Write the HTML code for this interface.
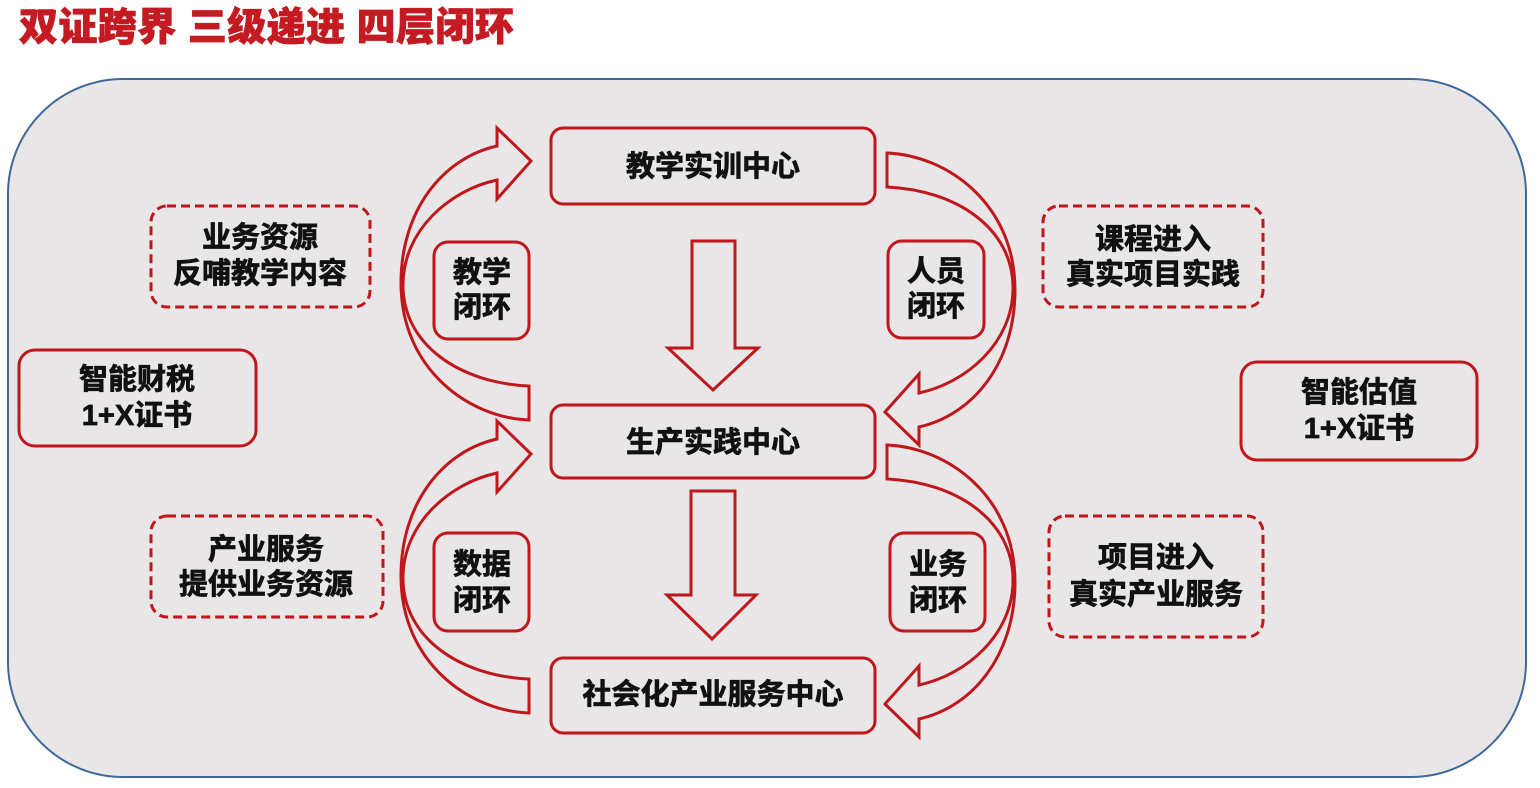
<!DOCTYPE html>
<html>
<head>
<meta charset="utf-8">
<style>
  html,body{margin:0;padding:0;background:#ffffff;}
  body{width:1540px;height:788px;overflow:hidden;}
  svg{display:block;}
  .t{font-family:"Liberation Sans","Noto Sans CJK SC",sans-serif;font-weight:bold;fill:#111;font-size:29px;stroke:#111;stroke-width:0.7px;}
</style>
</head>
<body>
<svg width="1540" height="788" viewBox="0 0 1540 788" xmlns="http://www.w3.org/2000/svg">
  <!-- title -->
  <text x="19" y="28" dominant-baseline="central" style="font-family:'Liberation Sans','Noto Sans CJK SC',sans-serif;font-weight:900;font-size:39px;letter-spacing:0.4px;fill:#c41a22;stroke:#c41a22;stroke-width:0.8px;">双证跨界 三级递进 四层闭环</text>

  <!-- container -->
  <rect x="8" y="79" width="1518" height="698" rx="115" ry="115" fill="#e8e6e7" stroke="#41689a" stroke-width="2"/>

  <defs>
    <path id="carrow" d="M529,420 C470,418 401,370 401,283 C401,210 443,158 497,146 L497,128 L531,161 L497,199 L497,180 C450,190 403,230 403,285 C403,345 460,383 529,386 Z" fill="none" stroke="#c0171d" stroke-width="3" stroke-linejoin="miter"/>
  </defs>

  <!-- curved arrows -->
  <use href="#carrow"/>
  <use href="#carrow" transform="translate(0,293)"/>
  <use href="#carrow" transform="rotate(180 708 286.5)"/>
  <use href="#carrow" transform="translate(0,292) rotate(180 708 286.5)"/>

  <!-- center boxes -->
  <rect x="551" y="128" width="324" height="76" rx="12" fill="none" stroke="#c0171d" stroke-width="3"/>
  <rect x="551" y="405" width="324" height="73" rx="12" fill="none" stroke="#c0171d" stroke-width="3"/>
  <rect x="551" y="658" width="324" height="75" rx="12" fill="none" stroke="#c0171d" stroke-width="3"/>
  <text class="t" x="713" y="167" text-anchor="middle" dominant-baseline="central">教学实训中心</text>
  <text class="t" x="713" y="443" text-anchor="middle" dominant-baseline="central">生产实践中心</text>
  <text class="t" x="713" y="695" text-anchor="middle" dominant-baseline="central">社会化产业服务中心</text>

  <!-- down arrows -->
  <polygon points="692,241 735,241 735,348 758,348 713,390 668,348 692,348" fill="none" stroke="#c0171d" stroke-width="3"/>
  <polygon points="691,491 735,491 735,595 756,595 712,639 667,595 691,595" fill="none" stroke="#c0171d" stroke-width="3"/>

  <!-- loop label boxes -->
  <rect x="434" y="242" width="95" height="97" rx="14" fill="none" stroke="#c0171d" stroke-width="3"/>
  <text class="t" x="482" y="273" text-anchor="middle" dominant-baseline="central">教学</text>
  <text class="t" x="482" y="308" text-anchor="middle" dominant-baseline="central">闭环</text>

  <rect x="888" y="241" width="96" height="97" rx="14" fill="none" stroke="#c0171d" stroke-width="3"/>
  <text class="t" x="936" y="272" text-anchor="middle" dominant-baseline="central">人员</text>
  <text class="t" x="936" y="307" text-anchor="middle" dominant-baseline="central">闭环</text>

  <rect x="434" y="533" width="95" height="98" rx="14" fill="none" stroke="#c0171d" stroke-width="3"/>
  <text class="t" x="482" y="565" text-anchor="middle" dominant-baseline="central">数据</text>
  <text class="t" x="482" y="601" text-anchor="middle" dominant-baseline="central">闭环</text>

  <rect x="890" y="533" width="95" height="98" rx="14" fill="none" stroke="#c0171d" stroke-width="3"/>
  <text class="t" x="938" y="565" text-anchor="middle" dominant-baseline="central">业务</text>
  <text class="t" x="938" y="601" text-anchor="middle" dominant-baseline="central">闭环</text>

  <!-- side dashed boxes -->
  <rect x="151" y="206" width="219" height="101" rx="16" fill="none" stroke="#c0171d" stroke-width="3" stroke-dasharray="9 5"/>
  <text class="t" x="260" y="238" text-anchor="middle" dominant-baseline="central">业务资源</text>
  <text class="t" x="260" y="274" text-anchor="middle" dominant-baseline="central">反哺教学内容</text>

  <rect x="151" y="516" width="232" height="101" rx="16" fill="none" stroke="#c0171d" stroke-width="3" stroke-dasharray="9 5"/>
  <text class="t" x="266" y="550" text-anchor="middle" dominant-baseline="central">产业服务</text>
  <text class="t" x="266" y="585" text-anchor="middle" dominant-baseline="central">提供业务资源</text>

  <rect x="1043" y="206" width="220" height="101" rx="16" fill="none" stroke="#c0171d" stroke-width="3" stroke-dasharray="9 5"/>
  <text class="t" x="1153" y="240" text-anchor="middle" dominant-baseline="central">课程进入</text>
  <text class="t" x="1153" y="275" text-anchor="middle" dominant-baseline="central">真实项目实践</text>

  <rect x="1049" y="516" width="214" height="121" rx="16" fill="none" stroke="#c0171d" stroke-width="3" stroke-dasharray="9 5"/>
  <text class="t" x="1156" y="558" text-anchor="middle" dominant-baseline="central">项目进入</text>
  <text class="t" x="1156" y="595" text-anchor="middle" dominant-baseline="central">真实产业服务</text>

  <!-- certificate boxes -->
  <rect x="19" y="350" width="237" height="96" rx="16" fill="none" stroke="#c0171d" stroke-width="3"/>
  <text class="t" x="137" y="380" text-anchor="middle" dominant-baseline="central">智能财税</text>
  <text class="t" x="137" y="416" text-anchor="middle" dominant-baseline="central">1+X证书</text>

  <rect x="1241" y="362" width="236" height="98" rx="16" fill="none" stroke="#c0171d" stroke-width="3"/>
  <text class="t" x="1359" y="393" text-anchor="middle" dominant-baseline="central">智能估值</text>
  <text class="t" x="1359" y="429" text-anchor="middle" dominant-baseline="central">1+X证书</text>
</svg>
</body>
</html>
